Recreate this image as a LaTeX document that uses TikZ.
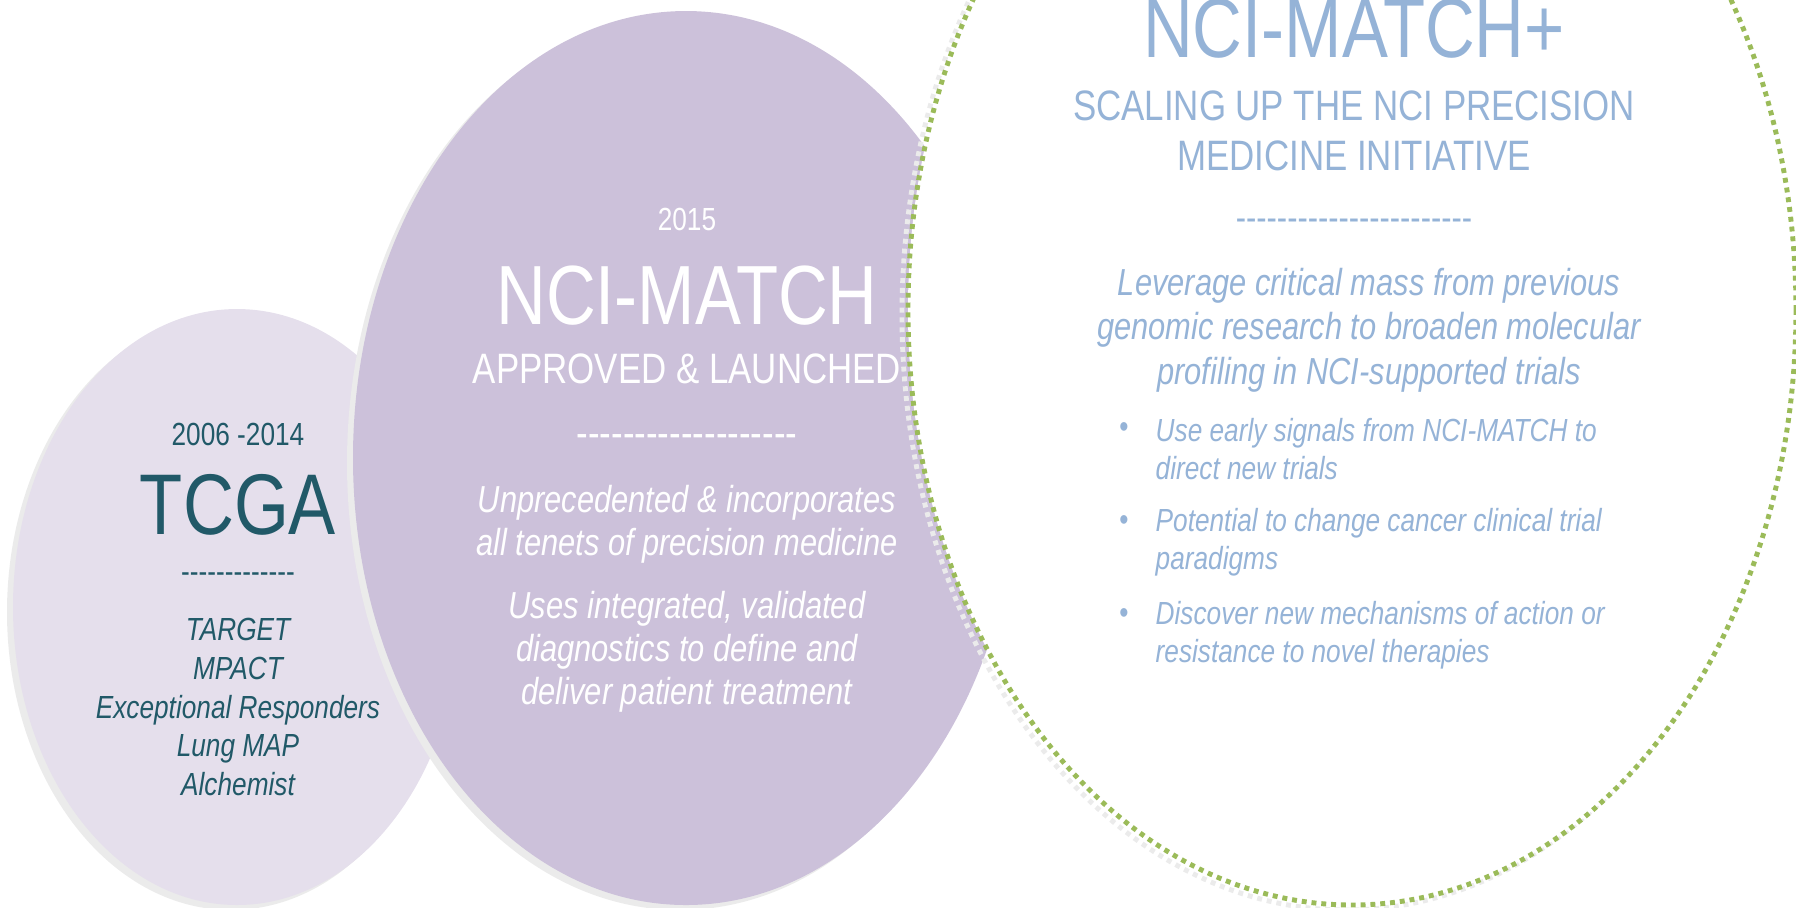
\documentclass[tikz,border=0pt]{standalone}
\usepackage{fontspec}
\setmainfont[FakeStretch=0.82]{Liberation Sans}
\definecolor{lilac}{HTML}{E5DFEC}
\definecolor{mauve}{HTML}{CCC1DA}
\definecolor{tealtext}{HTML}{215968}
\definecolor{skyblue}{HTML}{95B3D7}
\definecolor{leafgreen}{HTML}{9BBB59}
\definecolor{shadowgray}{HTML}{EBEBEB}
\newcommand{\hyphenrow}[1]{\foreach \i in {1,...,#1}{-\kern0pt}}

\begin{document}
\begin{tikzpicture}[x=0.1mm, y=-0.1mm]
\tikzstyle{lbl} = [inner sep=0pt, align=center]
\tikzstyle{yearlbl} = [lbl, font=\fontsize{9.1}{11}\selectfont]
\tikzstyle{biglbl} = [lbl, font=\fontsize{23.9}{26}\selectfont]
\tikzstyle{sublbl} = [lbl, font=\fontsize{12.1}{14.2}\selectfont]
\tikzstyle{listlbl} = [lbl, font=\fontsize{9.1}{11}\selectfont\itshape]
\tikzstyle{notelbl} = [lbl, font=\fontsize{10.7}{12.2}\selectfont\itshape]
\tikzstyle{bulletlbl} = [inner sep=0pt, align=left, anchor=west, font=\fontsize{9.1}{10.75}\selectfont\itshape]
\tikzstyle{ring} = [line width=1.4pt, dash pattern=on 1.4pt off 1.4pt]

\useasboundingbox (0,0) rectangle (1796,907);

\fill[shadowgray] (231,612) ellipse (224 and 298);
\fill[lilac] (237,607) ellipse (224 and 298);
\fill[shadowgray] (680,463) ellipse (333 and 447);
\fill[mauve] (686,458) ellipse (333 and 447);
\draw[shadowgray, ring] (1346,315) ellipse (444 and 595);
\fill[white] (1352,310) ellipse (444 and 595);
\draw[leafgreen, ring] (1352,310) ellipse (444 and 595);

\node[yearlbl, tealtext] (tcgayears) at (238,434) {2006 -2014};
\node[lbl, tealtext, font=\fontsize{24.5}{27}\selectfont] (tcga) at (238,505) {TCGA};
\node[yearlbl, tealtext] (tcgadash) at (238,578) {\hyphenrow{13}};
\node[listlbl, tealtext] (tcgalist) at (238,707) {TARGET\\MPACT\\Exceptional Responders\\Lung MAP\\Alchemist};

\node[yearlbl, white] (matchyear) at (687,219) {2015};
\node[biglbl, white] (match) at (687,296) {NCI-MATCH};
\node[sublbl, white] (approved) at (687,369) {APPROVED \& LAUNCHED};
\node[sublbl, white] (matchdash) at (687,441) {\hyphenrow{19}};
\node[notelbl, white] (unprec) at (687,524) {Unprecedented \& incorporates\\all tenets of precision medicine};
\node[notelbl, white] (uses) at (687,652) {Uses integrated, validated\\diagnostics to define and\\deliver patient treatment};

\node[biglbl, skyblue, anchor=base] (matchplus) at (1354,57) {NCI-MATCH+};
\node[sublbl, skyblue] (scaling) at (1354,131) {SCALING UP THE NCI PRECISION\\MEDICINE INITIATIVE};
\node[notelbl, skyblue, font=\fontsize{10.7}{12.7}\selectfont] (plusdash) at (1354,225) {\hyphenrow{23}};
\node[notelbl, skyblue, font=\fontsize{10.7}{12.7}\selectfont\itshape] (leverage) at (1369,330) {Leverage critical mass from previous\\genomic research to broaden molecular\\profiling in NCI-supported trials};

\node[yearlbl, skyblue] (dot1) at (1124,430) {•};
\node[bulletlbl, skyblue] (signals) at (1155,449) {Use early signals from NCI-MATCH to\\direct new trials};
\node[yearlbl, skyblue] (dot2) at (1124,523) {•};
\node[bulletlbl, skyblue] (paradigms) at (1155,542) {Potential to change cancer clinical trial\\paradigms};
\node[yearlbl, skyblue] (dot3) at (1124,616) {•};
\node[bulletlbl, skyblue] (mechanisms) at (1155,635) {Discover new mechanisms of action or\\resistance to novel therapies};
\end{tikzpicture}
\end{document}
